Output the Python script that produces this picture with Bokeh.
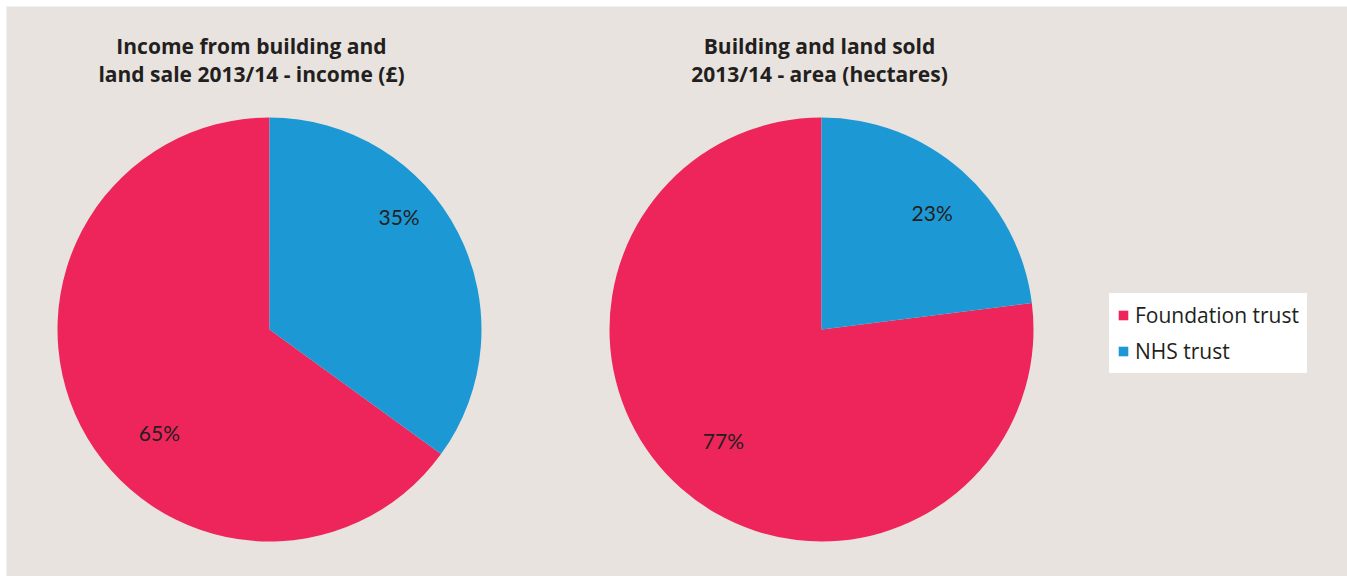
import math
from bokeh.plotting import figure
from bokeh.models import ColumnDataSource, Range1d, Legend, LegendItem
from bokeh.core.properties import value
from bokeh.embed import file_html
from bokeh.resources import INLINE

# ---------------- data ----------------
categories = ["Foundation trust", "NHS trust"]
colors = ["#EE255A", "#1C98D5"]
income_share = [65, 35]          # percent of income (£)
area_share = [77, 23]            # percent of area (hectares)
titles = [
    ["Income from building and", "land sale 2013/14 - income (£)"],
    ["Building and land sold", "2013/14 - area (hectares)"],
]

# ---------------- layout / style ----------------
W, H = 1347, 576
PAD_L, PAD_T = 6, 6
FW, FH = W - PAD_L, H - PAD_T
BG = "#E8E3DE"
TXT = "#231F20"
pie_cx = [263, 815]
pie_cy = FH - 323
R = 212
title_dx = [-18, -2]
title_y = [FH - 39, FH - 67]
# per-label placement tweaks (radius fraction, angle nudge deg) in order NHS, Foundation
label_rfrac = [[0.81, 0.71], [0.76, 0.70]]
label_nudge = [[-14, -16], [2, 0]]

p = figure(width=W, height=H, output_backend="svg", toolbar_location=None,
           x_range=Range1d(0, FW), y_range=Range1d(0, FH),
           min_border_left=PAD_L, min_border_top=PAD_T,
           min_border_right=0, min_border_bottom=0,
           background_fill_color=BG, border_fill_color="white")
p.axis.visible = False
p.grid.visible = False
p.outline_line_color = None

shares = [income_share, area_share]
draw_order = [1, 0]  # NHS from 12 o'clock clockwise, then Foundation

wedge_data = {c: dict(x=[], y=[], start=[], end=[]) for c in range(len(categories))}
lab = dict(x=[], y=[], t=[])
for pi_, sh in enumerate(shares):
    total = float(sum(sh))
    cum = 0.0
    for j, ci in enumerate(draw_order):
        frac = sh[ci] / total
        a0 = math.pi / 2 - 2 * math.pi * cum
        a1 = math.pi / 2 - 2 * math.pi * (cum + frac)
        wedge_data[ci]["x"].append(pie_cx[pi_])
        wedge_data[ci]["y"].append(pie_cy)
        wedge_data[ci]["start"].append(a0)
        wedge_data[ci]["end"].append(a1)
        mid_cw = 360 * (cum + frac / 2) + label_nudge[pi_][j]
        a = math.radians(90 - mid_cw)
        r = R * label_rfrac[pi_][j]
        lab["x"].append(pie_cx[pi_] + r * math.cos(a))
        lab["y"].append(pie_cy + r * math.sin(a))
        lab["t"].append(f"{sh[ci]}%")
        cum += frac

renderers = {}
for ci in range(len(categories)):
    src = ColumnDataSource(wedge_data[ci])
    renderers[ci] = p.wedge(x="x", y="y", radius=R, radius_units="data",
                            start_angle="start", end_angle="end", direction="clock",
                            fill_color=colors[ci], line_color=None, source=src)

p.text(x="x", y="y", text="t", source=ColumnDataSource(lab),
       text_font=value("Lato"), text_font_size="21px", text_color=TXT,
       text_align="center", text_baseline="middle")

tsrc = dict(x=[], y=[], t=[])
for pi_, lines in enumerate(titles):
    for li, line in enumerate(lines):
        tsrc["x"].append(pie_cx[pi_] + title_dx[pi_])
        tsrc["y"].append(title_y[li])
        tsrc["t"].append(line)
p.text(x="x", y="y", text="t", source=ColumnDataSource(tsrc),
       text_font=value("Open Sans"), text_font_style="bold", text_font_size="21px",
       text_color=TXT, text_align="center", text_baseline="alphabetic")

legend = Legend(items=[LegendItem(label=categories[ci], renderers=[renderers[ci]])
                       for ci in range(len(categories))],
                location=(1103, 203), background_fill_color="white",
                background_fill_alpha=1.0, border_line_alpha=0,
                label_text_font="Open Sans", label_text_font_size="21px",
                label_text_color=TXT, glyph_width=12, glyph_height=12,
                label_standoff=6, spacing=8, padding=8, margin=0,
                label_height=20)
p.add_layout(legend, "center")

open("out.html", "w").write(file_html(p, INLINE))
